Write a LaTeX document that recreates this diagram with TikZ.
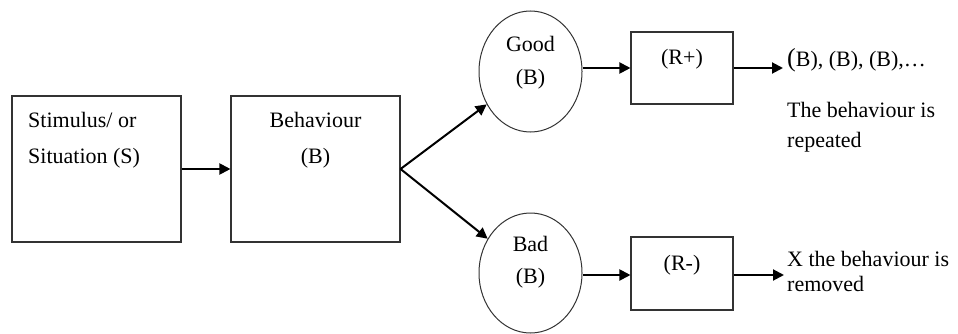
\documentclass[tikz,border=0pt]{standalone}
\usepackage{fontspec}
\setmainfont{Liberation Serif}
\usetikzlibrary{shapes.geometric,arrows.meta}
\begin{document}
\begin{tikzpicture}[x=1pt,y=-1pt,
  box/.style={draw=black!80,line width=1.1pt,rectangle,inner sep=0pt},
  oval/.style={draw=black!80,line width=1pt,ellipse,inner sep=0pt,minimum width=103pt,minimum height=121pt},
  txt/.style={inner sep=0pt,font=\fontsize{22}{26}\selectfont},
  arr/.style={line width=2pt,-{Triangle[length=11pt,width=11pt]}}]
\useasboundingbox (0,0) rectangle (958,334);
% boxes
\node[box,minimum width=169pt,minimum height=146pt] (S) at (96.5,169) {};
\node[box,minimum width=169pt,minimum height=146pt] (B) at (315.5,169) {};
\node[oval] (G) at (530.5,71.5) {};
\node[oval,minimum height=120pt] (Bd) at (530.5,273) {};
\node[box,minimum width=102pt,minimum height=72pt] (Rp) at (682,68) {};
\node[box,minimum width=102pt,minimum height=73pt] (Rm) at (682,273.5) {};
% texts
\node[txt,anchor=base west] (s1) at (28,128) {Stimulus/ or};
\node[txt,anchor=base west] (s2) at (28,164) {Situation (S)};
\node[txt,anchor=base] (b1) at (315.5,128) {Behaviour};
\node[txt,anchor=base] (b2) at (315.5,164) {(B)};
\node[txt,anchor=base] (g1) at (530.5,52) {Good};
\node[txt,anchor=base] (g2) at (530.5,85) {(B)};
\node[txt,anchor=base] (d1) at (530.5,251) {Bad};
\node[txt,anchor=base] (d2) at (530.5,283) {(B)};
\node[txt,anchor=base] (rp) at (682,65) {(R+)};
\node[txt,anchor=base] (rm) at (682,270) {(R-)};
\coordinate (e1) at (783,69);
\coordinate (e2) at (784,275);
\node[txt,anchor=base west] (o1) at (787,67) {{\fontsize{26}{26}\selectfont(}B), (B), (B),\dots};
\node[txt,anchor=base west] (o2) at (787,118) {The behaviour is};
\node[txt,anchor=base west] (o3) at (787,147) {repeated};
\node[txt,anchor=base west] (o4) at (787,266) {X the behaviour is};
\node[txt,anchor=base west] (o5) at (787,291) {removed};
% connectors
\draw[arr] (S.east) -- (B.west);
\draw[arr] (B.east) -- (G);
\draw[arr] (B.east) -- (Bd);
\draw[arr] (Rp.west -| G.east) -- (Rp.west);
\draw[arr] (Rp.east) -- (e1 |- Rp.east);
\draw[arr] (Bd.east |- e2) -- (Rm.west |- e2);
\draw[arr] (Rm.east |- e2) -- (e2);
\end{tikzpicture}
\end{document}
